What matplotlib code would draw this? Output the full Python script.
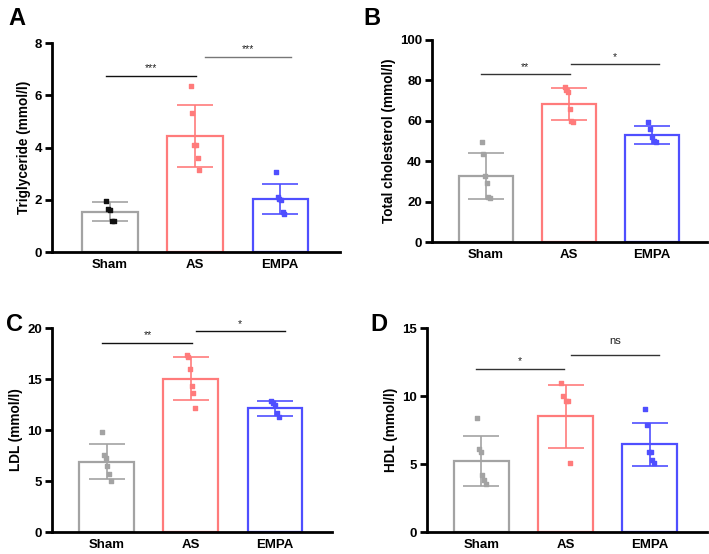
import numpy as np
import matplotlib.pyplot as plt

plt.rcParams['font.family'] = ['Liberation Sans', 'DejaVu Sans']

groups = ['Sham', 'AS', 'EMPA']
colors = ['#A3A3A3', '#FF7B7B', '#4F4FFF']

# panel A: triglyceride
tg_mean = [1.55, 4.45, 2.03]
tg_sd = [0.35, 1.18, 0.58]
tg_pts = [[1.95, 1.64, 1.6, 1.2, 1.19], [6.36, 5.31, 4.12, 4.12, 3.61, 3.16],
          [3.07, 2.11, 2.05, 2.01, 1.52, 1.46]]
# panel B: total cholesterol
tc_mean = [32.7, 68.3, 53.0]
tc_sd = [11.2, 7.8, 4.3]
tc_pts = [[49.6, 43.5, 32.7, 29.3, 22.3, 21.7], [76.9, 75.2, 74.0, 65.6, 60.0, 59.3],
          [59.3, 55.9, 51.9, 49.8, 49.6]]
# panel C: LDL
ldl_mean = [6.9, 15.05, 12.12]
ldl_sd = [1.7, 2.07, 0.72]
ldl_pts = [[9.77, 7.56, 7.26, 6.48, 5.67, 5.05], [17.33, 17.17, 16.0, 14.3, 13.65, 12.2],
           [12.87, 12.67, 12.44, 11.63, 11.27]]
# panel D: HDL
hdl_mean = [5.25, 8.53, 6.45]
hdl_sd = [1.83, 2.32, 1.58]
hdl_pts = [[8.36, 6.08, 5.91, 4.2, 3.84, 3.52], [10.97, 9.99, 9.63, 9.63, 5.1],
           [9.02, 7.87, 5.86, 5.86, 5.28, 5.1]]

point_colors = [['#111111', '#FF7B7B', '#4F4FFF'], colors, colors, colors]

fig = plt.figure(figsize=(7.09, 5.54), dpi=100)

panels = [
    ('A', [0.0733, 0.545, 0.406, 0.377], tg_mean, tg_sd, tg_pts, 8, 2, 'Triglyceride (mmol/l)',
     [('***', -0.04, 1.01, 6.75, '#111111'), ('***', 1.12, 2.13, 7.49, '#777777')], (-0.68, 2.7)),
    ('B', [0.609, 0.563, 0.388, 0.365], tc_mean, tc_sd, tc_pts, 100, 20, 'Total cholesterol (mmol/l)',
     [('**', -0.06, 1.01, 83.1, '#333333'), ('*', 1.02, 2.08, 87.9, '#333333')], (-0.65, 2.66)),
    ('C', [0.0733, 0.0397, 0.395, 0.368], ldl_mean, ldl_sd, ldl_pts, 20, 5, 'LDL (mmol/l)',
     [('**', -0.05, 1.02, 18.57, '#111111'), ('*', 1.06, 2.12, 19.67, '#111111')], (-0.65, 2.68)),
    ('D', [0.602, 0.0397, 0.395, 0.368], hdl_mean, hdl_sd, hdl_pts, 15, 5, 'HDL (mmol/l)',
     [('*', -0.07, 0.98, 12.02, '#333333'), ('ns', 1.06, 2.11, 13.0, '#333333')], (-0.65, 2.68)),
]

for k, (letter, pos, mean, sd, pts, ymax, step, ylabel, sigs, xlim) in enumerate(panels):
    ax = fig.add_axes(pos)
    x = np.arange(3)
    ax.bar(x, mean, width=0.65, color='white', edgecolor=colors, linewidth=1.6, zorder=2)
    for i in range(3):
        ax.errorbar(x[i], mean[i], yerr=sd[i], color=colors[i], capsize=13, elinewidth=1.2,
                    capthick=1.2, zorder=3)
        ax.scatter(np.full(len(pts[i]), x[i]) + np.linspace(-0.05, 0.05, len(pts[i])), pts[i],
                   marker='s', s=9, color=point_colors[k][i], zorder=4)
    for label, x0, x1, y, c in sigs:
        ax.plot([x0, x1], [y, y], color=c, linewidth=1.0, clip_on=False)
        off = 0.035 * ymax if label != 'ns' else 0.045 * ymax
        ax.text((x0 + x1) / 2, y + off, label, ha='center', va='bottom' if label == 'ns' else 'center',
                fontsize=8 if label == 'ns' else 7.5, color='#222222')
    ax.set_xlim(*xlim)
    ax.set_ylim(0, ymax)
    ax.set_yticks(np.arange(0, ymax + step, step))
    ax.set_xticks(x)
    ax.set_xticklabels(groups, fontsize=9.5, fontweight='bold')
    ax.tick_params(axis='x', length=0, pad=5)
    ax.tick_params(axis='y', length=5, width=2, labelsize=9.5, pad=2)
    for t in ax.get_yticklabels():
        t.set_fontweight('bold')
    ax.set_ylabel(ylabel, fontsize=9.8, fontweight='bold', labelpad=3)
    for s in ['top', 'right']:
        ax.spines[s].set_visible(False)
    for s in ['left', 'bottom']:
        ax.spines[s].set_linewidth(2)

fig.text(0.012, 0.988, 'A', fontsize=17, fontweight='bold', va='top')
fig.text(0.513, 0.988, 'B', fontsize=17, fontweight='bold', va='top')
fig.text(0.008, 0.435, 'C', fontsize=17, fontweight='bold', va='top')
fig.text(0.523, 0.435, 'D', fontsize=17, fontweight='bold', va='top')

fig.savefig('out.png', dpi=100)
